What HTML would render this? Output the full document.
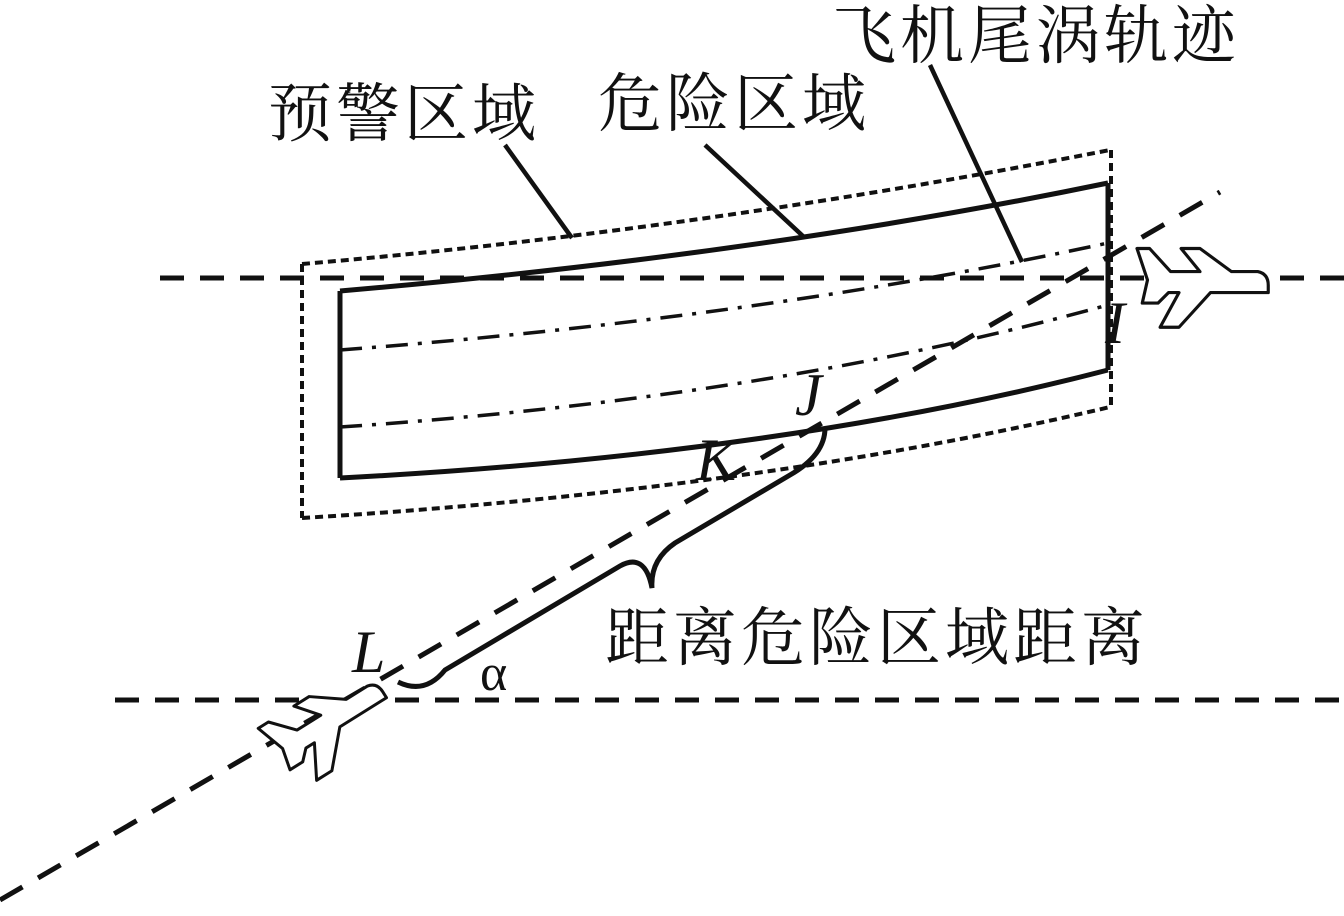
<!DOCTYPE html>
<html><head><meta charset="utf-8"><style>
html,body{margin:0;padding:0;background:#fff;}
svg{display:block}
.cj{font-family:"Liberation Serif","Noto Serif CJK SC",serif;font-size:64px;letter-spacing:4px;fill:#111}
.it{font-family:"Liberation Serif",serif;font-style:italic;font-size:60px;fill:#111}
</style></head><body>
<svg width="1344" height="916" viewBox="0 0 1344 916" xmlns="http://www.w3.org/2000/svg">
<defs>
<g id="plane">
<path d="M-60,-30 L-48,-30 L-28,-8 L0,-8 L-18,-30 L0,-30 L30,-8 L55,-8 Q65,-6 65,5 L65,12 L10,12 L-20,45 L-38,45 L-20,12 L-30,12 L-40,22 L-55,22 L-50,0 Z" fill="#fff" stroke="#111" stroke-width="3" stroke-linejoin="round"/>
</g>
</defs>
<g fill="none" stroke="#111">
<line x1="160" y1="278" x2="1344" y2="278" stroke-width="5" stroke-dasharray="24,16"/>
<line x1="115" y1="700" x2="1344" y2="700" stroke-width="5" stroke-dasharray="24,16"/>
<g stroke-width="4" stroke-dasharray="8,5">
<path d="M302,264 Q700,230 1110,150"/>
<path d="M302,518 Q760,490 1110,407"/>
<line x1="302" y1="264" x2="302" y2="518"/>
<line x1="1111" y1="150" x2="1111" y2="407"/>
</g>
<g stroke-width="5">
<path d="M340,291 Q760,255 1108,183"/>
<path d="M340,478 Q780,455 1108,370"/>
<line x1="340" y1="291" x2="340" y2="478"/>
<line x1="1108" y1="183" x2="1108" y2="370"/>
</g>
<g stroke-width="3.5" stroke-dasharray="22,10,4,10">
<path d="M340,350 Q760,318 1108,243"/>
<path d="M340,427 Q770,398 1108,305"/>
</g>
<line x1="0" y1="900" x2="1220" y2="192" stroke-width="5" stroke-dasharray="26,18"/>
<path d="M398,682 Q425,695 445,670 L620,566 Q645,552 652,588 Q650,560 675,543 L790,475 Q825,455 825,428" stroke-width="5"/>
<g stroke-width="4.5">
<line x1="505" y1="145" x2="572" y2="238"/>
<line x1="705" y1="145" x2="805" y2="238"/>
<line x1="930" y1="65" x2="1022" y2="262"/>
</g>
</g>
<use href="#plane" transform="translate(1200,280) scale(1.05)"/>
<use href="#plane" transform="translate(325,722) rotate(-32)"/>
<text class="cj" x="268" y="136">预警区域</text>
<text class="cj" x="598" y="126">危险区域</text>
<text class="cj" x="832" y="58">飞机尾涡轨迹</text>
<text class="cj" x="605" y="660">距离危险区域距离</text>
<text class="it" x="1105" y="343">I</text>
<text class="it" x="795" y="415">J</text>
<text class="it" x="696" y="480">K</text>
<text class="it" x="352" y="672">L</text>
<text class="it" x="480" y="690" style="font-style:normal;font-size:52px">α</text>
</svg>
</body></html>
